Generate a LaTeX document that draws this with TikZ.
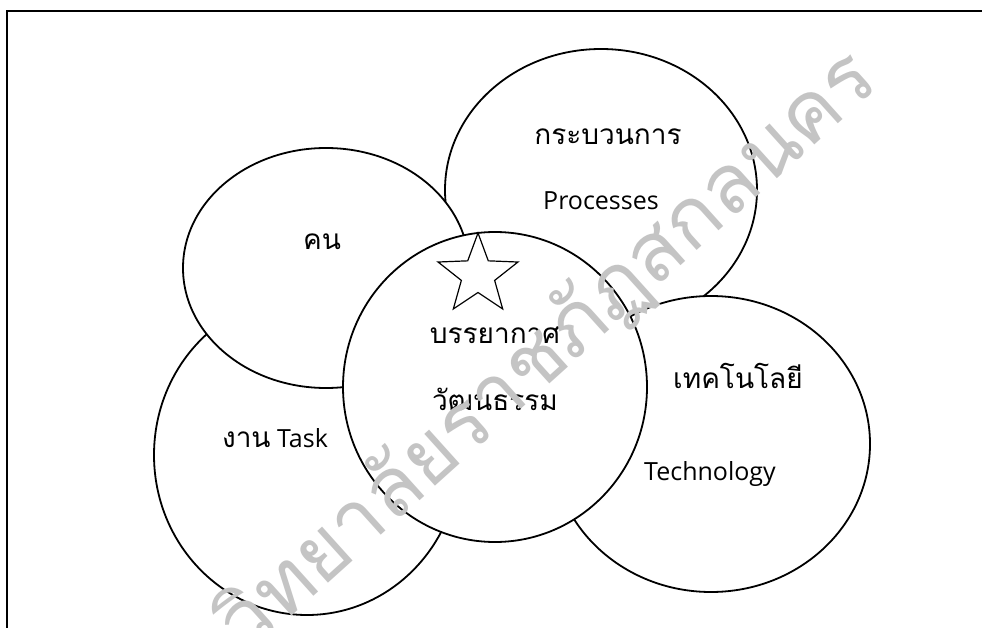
\documentclass[tikz,border=0pt]{standalone}
\usepackage{fontspec}
\usepackage{tikz}
\usepackage{xcolor}
\usetikzlibrary{shapes.geometric}
\setmainfont{Open Sans}
\newfontfamily\thaifont[Script=Thai]{Loma}
\definecolor{cInk}  {HTML}{000000}
\definecolor{cSeal} {HTML}{C4C4C4}

\begin{document}
\begin{tikzpicture}[x=1pt, y=-1pt,
    blob/.style={ellipse, draw=cInk, fill=white, line width=1.8pt, inner sep=0pt},
    enlbl/.style={font=\fontsize{25}{30}\selectfont, text=cInk, inner sep=0pt, anchor=base},
    thlbl/.style={font=\thaifont\fontsize{28}{33}\selectfont, text=cInk, inner sep=0pt, anchor=base},
  ]
  \useasboundingbox (0,0) rectangle (982,628);
  % page frame (left and top edge only)
  \draw[line width=1.8pt, draw=cInk] (7,628) |- (982,11);

  % the five factors, back to front
  \node[blob, minimum width=312pt, minimum height=282pt] (proc) at (601,190) {};
  \node[thlbl] (procTh) at (608,145) {กระบวนการ};
  \node[enlbl] (procEn) at (601,210) {Processes};

  \node[blob, minimum width=318pt, minimum height=296pt] (tech) at (711,444) {};
  \node[thlbl] (techTh) at (738,388) {เทคโนโลยี};
  \node[enlbl] (techEn) at (710,480) {Technology};

  \node[blob, minimum width=306pt, minimum height=320pt] (task) at (307,455) {};
  \node[enlbl] (taskLbl) at (275,447) {{\thaifont\fontsize{28}{33}\selectfont งาน} Task};

  \node[blob, minimum width=286pt, minimum height=240pt] (people) at (326,268) {};
  \node[thlbl] (peopleLbl) at (322,250) {คน};

  % climate / culture in the middle
  \node[blob, minimum width=304pt, minimum height=310pt] (core) at (495,387) {};
  \node[thlbl] (coreA) at (495,343) {บรรยากาศ};
  \node[thlbl] (coreB) at (495,410) {วัฒนธรรม};
  \node[star, star points=5, star point ratio=2.4, draw=cInk, line width=1.2pt,
        minimum size=84pt, inner sep=0pt] (mark) at (478,275) {};

  % university stamp across the page
  \node[font=\thaifont\fontsize{82}{82}\selectfont, text=cSeal, rotate=42,
        inner sep=0pt] (seal) at (548,352) {วิทยาลัยราชภัฏสกลนคร};
\end{tikzpicture}
\end{document}
